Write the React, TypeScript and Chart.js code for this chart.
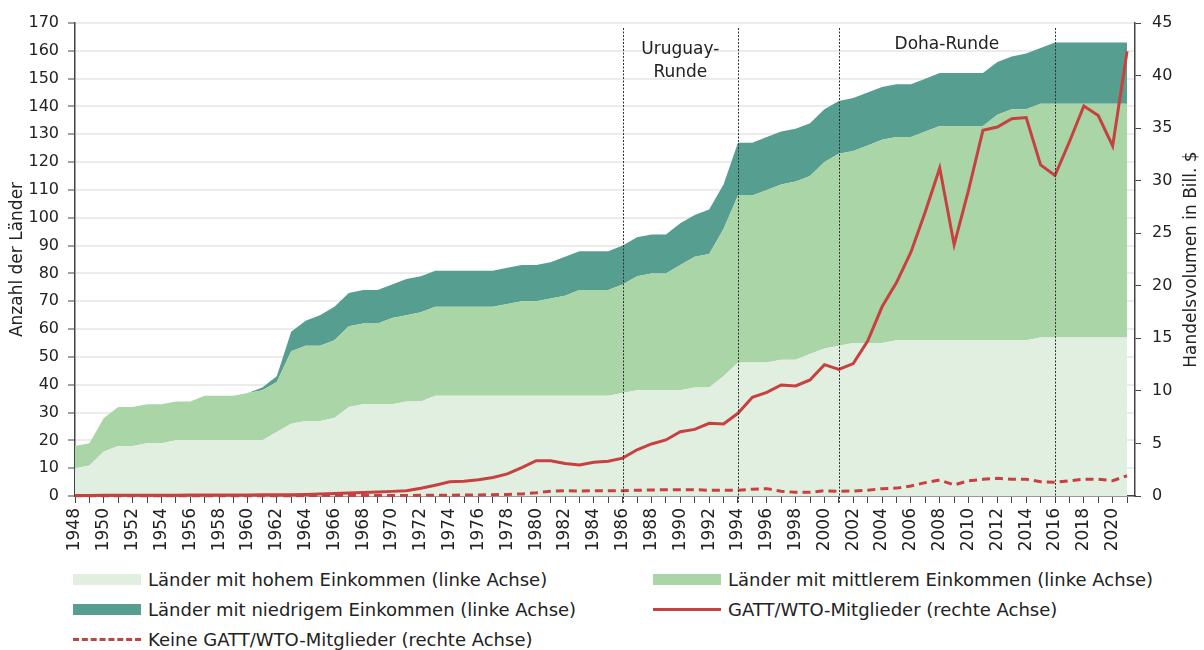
import React, { useEffect, useRef } from "react";
import { Chart, registerables } from "chart.js";

Chart.register(...registerables);

const years = [
  1948, 1949, 1950, 1951, 1952, 1953, 1954, 1955, 1956, 1957, 1958, 1959,
  1960, 1961, 1962, 1963, 1964, 1965, 1966, 1967, 1968, 1969,
  1970, 1971, 1972, 1973, 1974, 1975, 1976, 1977, 1978, 1979,
  1980, 1981, 1982, 1983, 1984, 1985, 1986, 1987, 1988, 1989,
  1990, 1991, 1992, 1993, 1994, 1995, 1996, 1997, 1998, 1999,
  2000, 2001, 2002, 2003, 2004, 2005, 2006, 2007, 2008, 2009,
  2010, 2011, 2012, 2013, 2014, 2015, 2016, 2017, 2018, 2019,
  2020, 2021,
];

// Anzahl der Länder je Einkommensgruppe (linke Achse)
const highIncome = [
  10, 11, 16, 18, 18, 19, 19, 20, 20, 20, 20, 20,
  20, 20, 23, 26, 27, 27, 28, 32, 33, 33,
  33, 34, 34, 36, 36, 36, 36, 36, 36, 36,
  36, 36, 36, 36, 36, 36, 37, 38, 38, 38,
  38, 39, 39, 43, 48, 48, 48, 49, 49, 51,
  53, 54, 55, 55, 55, 56, 56, 56, 56, 56,
  56, 56, 56, 56, 56, 57, 57, 57, 57, 57,
  57, 57,
];
const middleIncome = [
  8, 8, 12, 14, 14, 14, 14, 14, 14, 16, 16, 16,
  17, 18, 18, 26, 27, 27, 28, 29, 29, 29,
  31, 31, 32, 32, 32, 32, 32, 32, 33, 34,
  34, 35, 36, 38, 38, 38, 39, 41, 42, 42,
  45, 47, 48, 53, 60, 60, 62, 63, 64, 64,
  67, 69, 69, 71, 73, 73, 73, 75, 77, 77,
  77, 77, 81, 83, 83, 84, 84, 84, 84, 84,
  84, 84,
];
const lowIncome = [
  0, 0, 0, 0, 0, 0, 0, 0, 0, 0, 0, 0,
  0, 1, 2, 7, 9, 11, 12, 12, 12, 12,
  12, 13, 13, 13, 13, 13, 13, 13, 13, 13,
  13, 13, 14, 14, 14, 14, 14, 14, 14, 14,
  15, 15, 16, 16, 19, 19, 19, 19, 19, 19,
  19, 19, 19, 19, 19, 19, 19, 19, 19, 19,
  19, 19, 19, 19, 20, 20, 22, 22, 22, 22,
  22, 22,
];

// Handelsvolumen in Bill. $ (rechte Achse)
const gattMembers = [
  0.05, 0.05, 0.06, 0.06, 0.07, 0.07, 0.08, 0.08, 0.09, 0.09, 0.09, 0.1,
  0.1, 0.11, 0.11, 0.12, 0.15, 0.19, 0.24, 0.29, 0.33, 0.38,
  0.44, 0.51, 0.73, 1.03, 1.35, 1.4, 1.55, 1.76, 2.1, 2.7,
  3.36, 3.36, 3.1, 2.95, 3.2, 3.3, 3.6, 4.4, 4.95, 5.33,
  6.12, 6.34, 6.91, 6.85, 7.87, 9.39, 9.86, 10.56, 10.47, 11.04,
  12.5, 12.05, 12.6, 14.75, 18.0, 20.3, 23.2, 27.05, 31.2, 23.9,
  29.1, 34.8, 35.1, 35.9, 36.0, 31.5, 30.5, 33.7, 37.1, 36.2,
  33.3, 42.3,
];
const nonGattMembers = [
  0.02, 0.02, 0.02, 0.02, 0.02, 0.03, 0.03, 0.03, 0.03, 0.03, 0.03, 0.03,
  0.03, 0.03, 0.03, 0.03, 0.04, 0.04, 0.04, 0.04, 0.04, 0.05,
  0.05, 0.05, 0.06, 0.07, 0.08, 0.09, 0.1, 0.12, 0.15, 0.2,
  0.3, 0.45, 0.5, 0.48, 0.5, 0.5, 0.5, 0.55, 0.57, 0.6,
  0.6, 0.6, 0.55, 0.55, 0.55, 0.65, 0.7, 0.45, 0.35, 0.35,
  0.5, 0.45, 0.47, 0.55, 0.7, 0.75, 0.95, 1.27, 1.52, 1.05,
  1.45, 1.59, 1.68, 1.6, 1.6, 1.36, 1.3, 1.45, 1.6, 1.6,
  1.45, 1.93,
];

const roundYears = [1986, 1994, 2001, 2016];
const roundLabels = [
  { from: 1986, to: 1994, lines: ["Uruguay-", "Runde"] },
  { from: 2001, to: 2016, lines: ["Doha-Runde"] },
];

const leftTitle = "Anzahl der Länder";
const rightTitle = "Handelsvolumen in Bill. $";

const legendItems = [
  { label: "Länder mit hohem Einkommen (linke Achse)", kind: "box", color: "#e1efe0" },
  { label: "Länder mit mittlerem Einkommen (linke Achse)", kind: "box", color: "#a9d5a7" },
  { label: "Länder mit niedrigem Einkommen (linke Achse)", kind: "box", color: "#569e8f" },
  { label: "GATT/WTO-Mitglieder (rechte Achse)", kind: "line", color: "#c8403f" },
  { label: "Keine GATT/WTO-Mitglieder (rechte Achse)", kind: "dash", color: "#c8403f" },
];

const FONT = "'DejaVu Sans', 'Open Sans', sans-serif";
const TEXT = "#222";

const toPoints = (vals: number[]) => years.map((y, i) => ({ x: y, y: vals[i] }));

const overlayPlugin = {
  id: "overlay",
  afterDatasetsDraw(chart: any) {
    const { ctx, chartArea, scales } = chart;
    const xs = scales.x;
    ctx.save();
    ctx.strokeStyle = "#333";
    ctx.lineWidth = 1;
    ctx.setLineDash([2, 1.5]);
    roundYears.forEach((yr) => {
      const px = Math.round(xs.getPixelForValue(yr)) + 0.5;
      ctx.beginPath();
      ctx.moveTo(px, chartArea.top + 5);
      ctx.lineTo(px, chartArea.bottom + 7);
      ctx.stroke();
    });
    ctx.setLineDash([]);
    ctx.fillStyle = TEXT;
    ctx.font = `17px ${FONT}`;
    ctx.textAlign = "center";
    ctx.textBaseline = "middle";
    roundLabels.forEach((r) => {
      const cx = (xs.getPixelForValue(r.from) + xs.getPixelForValue(r.to)) / 2;
      const y0 = r.lines.length > 1 ? chartArea.top + 27 : chartArea.top + 22;
      r.lines.forEach((t, i) => ctx.fillText(t, cx, y0 + i * 23));
    });
    const cy = (chartArea.top + chartArea.bottom) / 2;
    ctx.save();
    ctx.translate(18, cy);
    ctx.rotate(-Math.PI / 2);
    ctx.fillText(leftTitle, 0, 0);
    ctx.restore();
    ctx.save();
    ctx.translate(1192, cy);
    ctx.rotate(-Math.PI / 2);
    ctx.fillText(rightTitle, 0, 0);
    ctx.restore();
    ctx.restore();
  },
};

export default function App() {
  const canvasRef = useRef<HTMLCanvasElement | null>(null);

  useEffect(() => {
    document.body.style.margin = "0";
    const canvas = canvasRef.current;
    if (!canvas) return;
    const chart = new Chart(canvas, {
      type: "line",
      data: {
        datasets: [
          {
            label: "GATT/WTO-Mitglieder (rechte Achse)",
            data: toPoints(gattMembers),
            yAxisID: "y1",
            borderColor: "#c8403f",
            borderWidth: 3,
            pointRadius: 0,
            fill: false,
            order: 0,
            clip: 4,
          } as any,
          {
            label: "Keine GATT/WTO-Mitglieder (rechte Achse)",
            data: toPoints(nonGattMembers),
            yAxisID: "y1",
            borderColor: "#c8403f",
            borderWidth: 3,
            borderDash: [8, 5],
            pointRadius: 0,
            fill: false,
            order: 0,
            clip: 4,
          },
          {
            label: "Länder mit hohem Einkommen (linke Achse)",
            data: toPoints(highIncome),
            yAxisID: "y",
            backgroundColor: "#e1efe0",
            borderWidth: 0,
            pointRadius: 0,
            fill: "origin",
            order: 1,
          },
          {
            label: "Länder mit mittlerem Einkommen (linke Achse)",
            data: toPoints(middleIncome),
            yAxisID: "y",
            backgroundColor: "#a9d5a7",
            borderWidth: 0,
            pointRadius: 0,
            fill: "-1",
            order: 1,
          },
          {
            label: "Länder mit niedrigem Einkommen (linke Achse)",
            data: toPoints(lowIncome),
            yAxisID: "y",
            backgroundColor: "#569e8f",
            borderWidth: 0,
            pointRadius: 0,
            fill: "-1",
            order: 1,
          },
        ],
      },
      options: {
        animation: false,
        responsive: false,
        maintainAspectRatio: false,
        layout: { padding: { top: 23, left: 0, right: 0, bottom: 0 } },
        plugins: { legend: { display: false }, tooltip: { enabled: false } },
        elements: { line: { tension: 0 } },
        scales: {
          x: {
            type: "linear",
            min: 1948,
            max: 2021.55,
            afterBuildTicks: (scale: any) => {
              scale.ticks = years.map((y) => ({ value: y }));
            },
            afterFit: (scale: any) => {
              scale.height = 69;
            },
            ticks: {
              autoSkip: false,
              maxRotation: 90,
              minRotation: 90,
              padding: 5,
              color: TEXT,
              font: { family: FONT, size: 17 },
              callback: (v: any) => (Number(v) % 2 === 0 ? String(v) : ""),
            },
            grid: { drawOnChartArea: false, tickLength: 7, tickColor: "#444", tickWidth: 1 },
            border: { color: "#444", width: 1.5 },
          },
          y: {
            type: "linear",
            position: "left",
            stacked: true,
            min: 0,
            max: 170,
            afterFit: (scale: any) => {
              scale.width = 75;
            },
            ticks: {
              stepSize: 10,
              padding: 9,
              color: TEXT,
              font: { family: FONT, size: 16 },
            },
            grid: { color: "#ececec", lineWidth: 2, tickLength: 7, tickColor: "#444", tickWidth: 1 },
            border: { color: "#444", width: 1.5 },
          },
          y1: {
            type: "linear",
            position: "right",
            min: 0,
            max: 45,
            afterFit: (scale: any) => {
              scale.width = 69;
            },
            ticks: {
              stepSize: 5,
              padding: 11,
              color: TEXT,
              font: { family: FONT, size: 16 },
            },
            grid: { drawOnChartArea: false, tickLength: 6, tickColor: "#444", tickWidth: 1 },
            border: { color: "#444", width: 1.5 },
          },
        },
      },
      plugins: [overlayPlugin],
    });
    return () => chart.destroy();
  }, []);

  const rows = [
    [legendItems[0], legendItems[1]],
    [legendItems[2], legendItems[3]],
    [legendItems[4]],
  ];
  const rowY = [579, 609, 639];
  const colX = [73, 653];

  return (
    <div style={{ position: "relative", width: 1204, height: 650, fontFamily: FONT, color: TEXT, background: "#fff" }}>
      <canvas ref={canvasRef} width={1204} height={565} style={{ position: "absolute", left: 0, top: 0 }} />
      {rows.map((row, ri) =>
        row.map((item, ci) => (
          <div
            key={`${ri}-${ci}`}
            style={{
              position: "absolute",
              left: colX[ci],
              top: rowY[ri] - 12,
              height: 24,
              display: "flex",
              alignItems: "center",
              whiteSpace: "nowrap",
              fontSize: 18,
            }}
          >
            {item.kind === "box" ? (
              <span style={{ display: "inline-block", width: 68, height: 11, background: item.color }} />
            ) : (
              <span
                style={{
                  display: "inline-block",
                  width: 68,
                  height: 0,
                  borderTop: `3px ${item.kind === "dash" ? "dashed" : "solid"} ${item.color}`,
                }}
              />
            )}
            <span style={{ marginLeft: 7 }}>{item.label}</span>
          </div>
        ))
      )}
    </div>
  );
}
